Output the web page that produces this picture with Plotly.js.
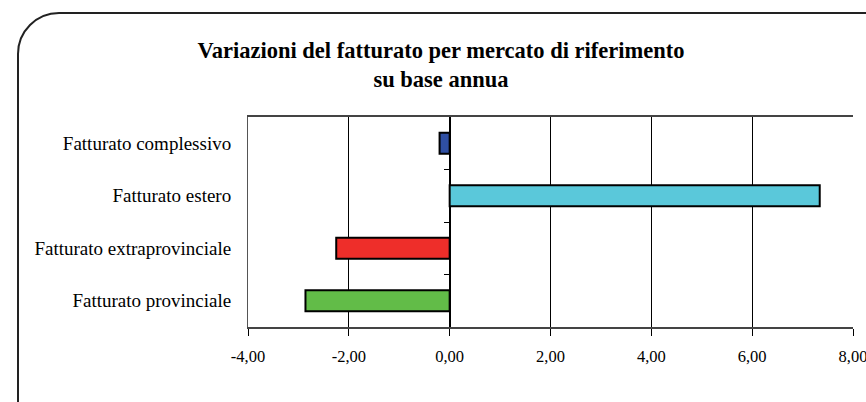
<!DOCTYPE html>
<html>
<head>
<meta charset="utf-8">
<script src="https://cdn.plot.ly/plotly-3.0.1.min.js"></script>
<style>
html,body{margin:0;padding:0;width:866px;height:402px;overflow:hidden;background:#fff;}
#frame{position:absolute;left:17px;top:12px;width:900px;height:440px;border:2px solid #222;border-radius:42px;box-sizing:border-box;}
#chart{position:absolute;left:0;top:0;width:866px;height:402px;}
</style>
</head>
<body>
<div id="frame"></div>
<div id="chart"></div>
<script>
const categories = ["Fatturato complessivo", "Fatturato estero", "Fatturato extraprovinciale", "Fatturato provinciale"];
const values = [-0.2, 7.34, -2.25, -2.86];
const barColors = ["#2F4FA3", "#5AC8DA", "#EE2E2A", "#62BC48"];
const xTickVals = [-4, -2, 0, 2, 4, 6, 8];
const xTickText = ["-4,00", "-2,00", "0,00", "2,00", "4,00", "6,00", "8,00"];
const boundaryTicks = [0.5, 1.5, 2.5];

const serif = "Liberation Serif, Times New Roman, serif";

const traces = [
  {
    type: "bar",
    orientation: "h",
    y: categories,
    x: values,
    marker: {color: barColors, line: {color: "#000", width: 2}},
    width: 0.4,
    hoverinfo: "skip",
    showlegend: false
  },
  {
    type: "scatter",
    mode: "markers",
    x: [0],
    y: [0],
    yaxis: "y2",
    marker: {opacity: 0},
    hoverinfo: "skip",
    showlegend: false
  }
];

const layout = {
  width: 866,
  height: 402,
  margin: {l: 248, r: 13, t: 117, b: 75},
  paper_bgcolor: "rgba(0,0,0,0)",
  plot_bgcolor: "#fff",
  font: {family: serif, color: "#000", size: 16},
  title: {
    text: "<b>Variazioni del fatturato per mercato di riferimento<br>su base annua</b>",
    font: {family: serif, size: 22.5, color: "#000"},
    x: 441/866, xref: "container", xanchor: "center",
    y: 1 - 58/402, yref: "container", yanchor: "top"
  },
  xaxis: {
    range: [-4, 8],
    tickvals: xTickVals,
    ticktext: xTickText,
    showgrid: true,
    gridcolor: "#000",
    gridwidth: 1,
    zeroline: true,
    zerolinecolor: "#000",
    zerolinewidth: 2,
    showline: true,
    linecolor: "#444",
    linewidth: 2,
    mirror: true,
    ticks: "outside",
    ticklen: 7,
    tickcolor: "#000",
    ticklabelstandoff: 6,
    ticklabeloverflow: "allow",
    tickfont: {family: serif, size: 16.5, color: "#000"},
    fixedrange: true
  },
  yaxis: {
    autorange: "reversed",
    type: "category",
    categoryorder: "array",
    categoryarray: categories,
    showgrid: false,
    zeroline: false,
    showline: true,
    linecolor: "#555",
    linewidth: 1,
    ticks: "outside",
    ticklen: 12,
    tickcolor: "rgba(0,0,0,0)",
    tickfont: {family: serif, size: 19, color: "#000"},
    fixedrange: true
  },
  yaxis2: {
    overlaying: "y",
    anchor: "free",
    position: 1/3,
    side: "left",
    range: [3.5, -0.5],
    tickvals: boundaryTicks,
    showticklabels: false,
    ticks: "outside",
    ticklen: 6,
    tickcolor: "#000",
    tickwidth: 1,
    showline: false,
    showgrid: false,
    zeroline: false,
    fixedrange: true
  },
  bargap: 0.6,
  showlegend: false
};

Plotly.newPlot("chart", traces, layout, {displayModeBar: false, staticPlot: true});
</script>
</body>
</html>
